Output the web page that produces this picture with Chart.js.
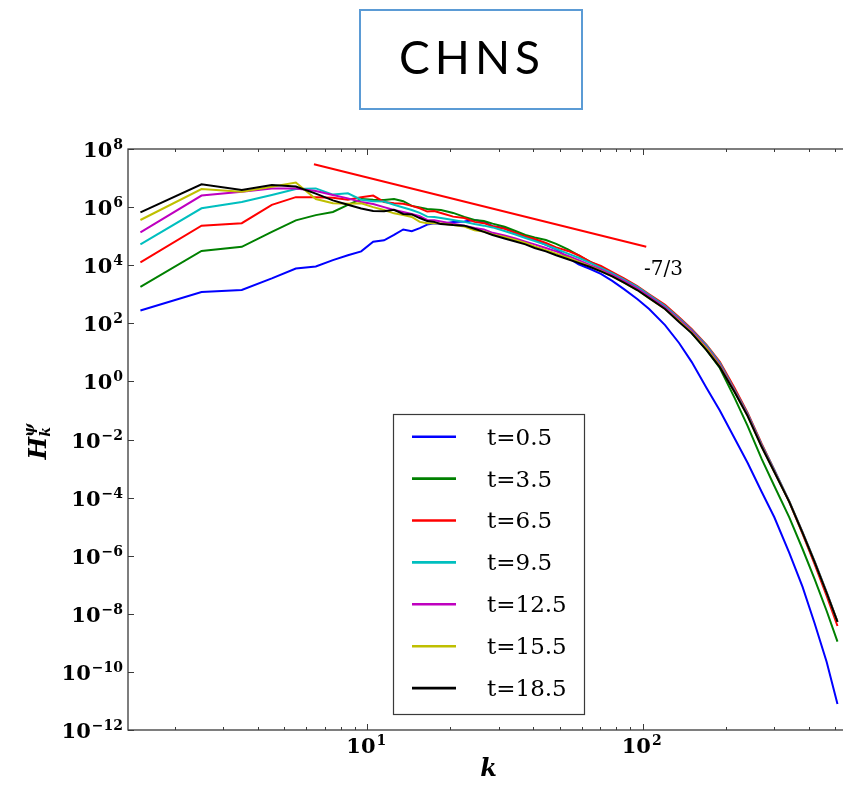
<!DOCTYPE html>
<html>
<head>
<meta charset="utf-8">
<script src="https://cdn.jsdelivr.net/npm/chart.js@4.4.1/dist/chart.umd.min.js"></script>
<style>
  html, body { margin: 0; padding: 0; background: #fff; overflow: hidden; }
  #wrap { position: relative; width: 843px; height: 786px; overflow: hidden; }
  #chart { position: absolute; left: 0; top: 0; }
  #title {
    position: absolute; left: 359px; top: 9px; width: 220px; height: 97px;
    border: 2px solid #5b9bd5; display: flex; align-items: center; justify-content: center;
    font-family: Lato, "Open Sans", sans-serif; font-size: 46px; letter-spacing: 5px; color: #000;
  }
  #title span { position: relative; top: -3px; left: 1px; }
</style>
</head>
<body>
<div id="wrap">
  <canvas id="chart" width="849" height="786"></canvas>
  <div id="title"><span>CHNS</span></div>
</div>
<script>
// wavenumber shells (x axis)
const kValues = [1.5, 2.5, 3.5, 4.5, 5.5, 6.5, 7.5, 8.5, 9.5, 10.5,
  11.5, 12.5, 13.5, 14.5, 15.5, 16.5, 17.5, 18.5, 20.5, 22.5,
  24.5, 26.5, 28.5, 31.5, 34.5, 37.5, 40.5, 44.5, 48.5, 53.5,
  58.5, 64.5, 70.5, 77.5, 85.5, 95.5, 105.5, 120.5, 135.5, 150.5,
  170.5, 190.5, 215.5, 240.5, 270.5, 300.5, 340.5, 380.5, 420.5, 465.5, 509.5];

const seriesLabels = ['t=0.5', 't=3.5', 't=6.5', 't=9.5', 't=12.5', 't=15.5', 't=18.5'];
const seriesColors = ['#0000ff', '#008000', '#ff0000', '#00bfbf', '#bf00bf', '#bfbf00', '#000000'];

const hT0_5 = [276, 1.2e3, 1.4e3, 3.5e3, 7.7e3, 9.0e3, 1.5e4, 2.2e4, 3.0e4, 6.4e4,
  7.2e4, 1.1e5, 1.7e5, 1.47e5, 1.9e5, 2.5e5, 2.8e5, 2.6e5, 3.1e5, 3.2e5,
  3.6e5, 3.1e5, 2.2e5, 1.9e5, 1.3e5, 9.4e4, 7.4e4, 5.0e4, 3.5e4, 1.8e4,
  1.06e4, 7.4e3, 5.0e3, 2.9e3, 1.5e3, 690, 310, 87, 21, 4.7,
  0.59, 0.10, 1.1e-2, 1.55e-3, 1.56e-4, 2.1e-5, 1.24e-6, 8.4e-8, 4.8e-9, 2.2e-10, 7.9e-12];
const hT3_5 = [1.8e3, 3.1e4, 4.3e4, 1.4e5, 3.5e5, 5.3e5, 6.8e5, 1.2e6, 1.9e6, 1.8e6,
  1.75e6, 1.9e6, 1.6e6, 1.1e6, 9.7e5, 8.6e5, 8.3e5, 7.9e5, 6.3e5, 4.6e5,
  3.6e5, 3.3e5, 2.7e5, 2.1e5, 1.5e5, 1.1e5, 9.0e4, 7.4e4, 5.4e4, 3.5e4,
  2.2e4, 1.3e4, 8.7e3, 5.4e3, 3.1e3, 1.6e3, 870, 340, 130, 46,
  12, 2.9, 0.27, 2.9e-2, 2.1e-3, 2.5e-4, 2.1e-5, 1.7e-6, 1.6e-7, 1.25e-8, 1.1e-9];
const hT6_5 = [1.26e4, 2.3e5, 2.8e5, 1.2e6, 2.2e6, 2.2e6, 2.1e6, 1.8e6, 2.2e6, 2.5e6,
  1.5e6, 1.35e6, 1.3e6, 1.1e6, 9.1e5, 7.0e5, 7.3e5, 6.3e5, 4.7e5, 4.2e5,
  3.1e5, 2.8e5, 2.2e5, 1.8e5, 1.3e5, 9.7e4, 8.0e4, 5.8e4, 4.1e4, 3.1e4,
  2.2e4, 1.3e4, 9.4e3, 5.8e3, 3.5e3, 1.9e3, 1.0e3, 430, 160, 64,
  18, 4.7, 0.59, 8.2e-2, 7.0e-3, 8.9e-4, 7.1e-5, 5.6e-6, 5.2e-7, 4.1e-8, 3.8e-9];
const hT9_5 = [5.2e4, 9.1e5, 1.5e6, 2.6e6, 4.2e6, 4.4e6, 2.7e6, 3.0e6, 1.8e6, 1.6e6,
  1.56e6, 1.2e6, 9.7e5, 7.9e5, 6.3e5, 4.7e5, 4.6e5, 4.2e5, 3.6e5, 3.1e5,
  2.6e5, 2.3e5, 2.0e5, 1.5e5, 1.14e5, 8.6e4, 6.8e4, 5.0e4, 3.6e4, 2.5e4,
  1.8e4, 1.2e4, 8.0e3, 5.2e3, 3.2e3, 1.8e3, 940, 390, 150, 59,
  17, 4.3, 0.51, 7.6e-2, 6.5e-3, 8.9e-4, 7.6e-5, 6.5e-6, 6.6e-7, 5.6e-8, 5.4e-9];
const hT12_5 = [1.36e5, 2.5e6, 3.4e6, 4.4e6, 4.4e6, 3.6e6, 2.6e6, 2.0e6, 1.5e6, 1.28e6,
  1.0e6, 7.9e5, 6.8e5, 5.8e5, 4.9e5, 3.6e5, 3.5e5, 3.2e5, 2.7e5, 2.3e5,
  1.9e5, 1.7e5, 1.3e5, 1.05e5, 8.3e4, 6.5e4, 5.2e4, 3.9e4, 3.0e4, 2.1e4,
  1.5e4, 1.0e4, 7.1e3, 4.6e3, 2.9e3, 1.6e3, 840, 350, 135, 54,
  15, 3.8, 0.47, 7.0e-2, 6.0e-3, 8.2e-4, 7.3e-5, 6.3e-6, 6.3e-7, 5.4e-8, 5.3e-9];
const hT15_5 = [3.6e5, 4.2e6, 3.4e6, 5.0e6, 7.0e6, 1.9e6, 1.35e6, 1.3e6, 1.35e6, 1.0e6,
  7.9e5, 6.1e5, 5.3e5, 4.6e5, 3.1e5, 2.8e5, 2.8e5, 2.7e5, 2.4e5, 2.15e5,
  1.6e5, 1.45e5, 1.14e5, 9.4e4, 7.4e4, 5.8e4, 4.4e4, 3.3e4, 2.5e4, 1.8e4,
  1.3e4, 9.0e3, 6.3e3, 4.1e3, 2.5e3, 1.4e3, 740, 310, 120, 48,
  13.6, 3.4, 0.43, 6.4e-2, 5.5e-3, 7.6e-4, 7.1e-5, 6.1e-6, 6.1e-7, 5.2e-8, 5.3e-9];
const hT18_5 = [6.6e5, 6.1e6, 3.9e6, 5.8e6, 5.1e6, 2.9e6, 1.7e6, 1.2e6, 9.0e5, 7.3e5,
  7.2e5, 8.1e5, 5.8e5, 5.6e5, 4.2e5, 3.3e5, 3.1e5, 2.6e5, 2.4e5, 2.3e5,
  1.8e5, 1.4e5, 1.1e5, 8.3e4, 6.5e4, 5.2e4, 3.9e4, 3.0e4, 2.2e4, 1.6e4,
  1.2e4, 8.7e3, 6.1e3, 4.1e3, 2.5e3, 1.4e3, 740, 310, 110, 46,
  12, 3.1, 0.43, 6.4e-2, 5.5e-3, 7.6e-4, 7.1e-5, 6.1e-6, 6.1e-7, 5.2e-8, 5.3e-9];
const seriesValues = [hT0_5, hT3_5, hT6_5, hT9_5, hT12_5, hT15_5, hT18_5];

// -7/3 reference slope
const refK = [6.4, 103];
const refH = [3.0e7, 4.3e4];
const refLabel = '-7/3';
const refLabelK = 101;
const refLabelH = 6.8e3;

const xTickExps = [1, 2];
const yTickExps = [8, 6, 4, 2, 0, -2, -4, -6, -8, -10, -12];

const SERIF = '"DejaVu Serif"';

// "10" with a raised exponent, baseline at y
function drawPow10(ctx, exp, x, y, align) {
  const sup = String(exp).replace('-', '\u2212');
  ctx.font = 'bold 21px ' + SERIF;
  const bw = ctx.measureText('10').width;
  ctx.font = 'bold 14px ' + SERIF;
  const sw = ctx.measureText(sup).width;
  const total = bw + 1 + sw;
  const x0 = align === 'right' ? x - total : x - total / 2;
  ctx.textAlign = 'left';
  ctx.textBaseline = 'alphabetic';
  ctx.font = 'bold 21px ' + SERIF;
  ctx.fillText('10', x0, y);
  ctx.font = 'bold 14px ' + SERIF;
  ctx.fillText(sup, x0 + bw + 1, y - 8);
}

const datasets = seriesValues.map((vals, i) => ({
  label: seriesLabels[i],
  data: kValues.map((k, j) => ({ x: k, y: vals[j] })),
  borderColor: seriesColors[i],
  borderWidth: 2,
  pointRadius: 0,
  tension: 0,
  fill: false,
  order: seriesValues.length - i
}));
datasets.push({
  label: 'slope',
  data: refK.map((k, j) => ({ x: k, y: refH[j] })),
  borderColor: '#ff0000',
  borderWidth: 2,
  pointRadius: 0,
  fill: false,
  order: 0
});

// frame, inward ticks and tick labels, like matplotlib classic
const axesDeco = {
  id: 'axesDeco',
  afterDatasetsDraw(chart) {
    const { ctx, chartArea: a, scales: { x, y } } = chart;
    ctx.save();
    ctx.strokeStyle = '#3a3a3a';
    ctx.lineWidth = 1.3;
    ctx.strokeRect(a.left, a.top, a.right - a.left, a.bottom - a.top);
    ctx.lineWidth = 1;
    ctx.beginPath();
    for (let d = 0; d <= 2; d++) {
      for (let m = 1; m <= 9; m++) {
        const v = m * Math.pow(10, d);
        if (v < x.min || v > x.max) continue;
        const px = Math.round(x.getPixelForValue(v)) + 0.5;
        const len = m === 1 ? 6 : 3;
        ctx.moveTo(px, a.bottom); ctx.lineTo(px, a.bottom - len);
        ctx.moveTo(px, a.top); ctx.lineTo(px, a.top + len);
      }
    }
    y.ticks.forEach(t => {
      const py = Math.round(y.getPixelForValue(t.value)) + 0.5;
      ctx.moveTo(a.left, py); ctx.lineTo(a.left + 6, py);
    });
    ctx.stroke();

    ctx.fillStyle = '#000';
    x.ticks.forEach((t, i) => drawPow10(ctx, xTickExps[i], x.getPixelForValue(t.value) - 1, a.bottom + 23, 'center'));
    y.ticks.forEach((t, i) => drawPow10(ctx, yTickExps[i], a.left - 5, y.getPixelForValue(t.value) + 8, 'right'));

    // slope annotation
    ctx.font = '20px ' + SERIF;
    ctx.textAlign = 'left';
    ctx.textBaseline = 'middle';
    ctx.fillText(refLabel, x.getPixelForValue(refLabelK), y.getPixelForValue(refLabelH));

    // y axis title H_k^psi
    ctx.translate(46, (a.top + a.bottom) / 2 + 2);
    ctx.rotate(-Math.PI / 2);
    ctx.textBaseline = 'alphabetic';
    ctx.font = 'italic bold 24px ' + SERIF;
    const hw = ctx.measureText('H').width;
    ctx.font = 'italic bold 14px ' + SERIF;
    const sw = Math.max(ctx.measureText('k').width, ctx.measureText('\u03c8').width);
    const x0 = -(hw + sw) / 2;
    ctx.font = 'italic bold 24px ' + SERIF;
    ctx.fillText('H', x0, 0);
    ctx.font = 'italic bold 14px ' + SERIF;
    ctx.fillText('k', x0 + hw, 4);
    ctx.fillText('\u03c8', x0 + hw, -12);
    ctx.restore();
  }
};

const legendBox = {
  id: 'legendBox',
  afterDraw(chart) {
    const { ctx, chartArea: a } = chart;
    const left = a.left + 265, top = a.top + 265, w = 191, h = 300, step = 41.9;
    ctx.save();
    ctx.fillStyle = '#fff';
    ctx.fillRect(left, top, w, h);
    ctx.strokeStyle = '#3a3a3a';
    ctx.lineWidth = 1.2;
    ctx.strokeRect(left + 0.5, top + 0.5, w, h);
    ctx.font = '23px ' + SERIF;
    ctx.textAlign = 'left';
    ctx.textBaseline = 'middle';
    seriesLabels.forEach((lab, i) => {
      const cy = top + 22.7 + i * step;
      ctx.strokeStyle = seriesColors[i];
      ctx.lineWidth = 2.6;
      ctx.beginPath();
      ctx.moveTo(left + 19, cy); ctx.lineTo(left + 63, cy);
      ctx.stroke();
      ctx.fillStyle = '#000';
      ctx.fillText(lab, left + 94, cy + 2);
    });
    ctx.restore();
  }
};

new Chart(document.getElementById('chart'), {
  type: 'line',
  data: { datasets },
  options: {
    responsive: false,
    animation: false,
    layout: { padding: { top: 149, left: 0, right: 0, bottom: 0 } },
    plugins: { legend: { display: false }, tooltip: { enabled: false } },
    scales: {
      x: {
        type: 'logarithmic',
        min: 1.352,
        max: 561,
        afterFit: s => { s.height = 56; },
        afterBuildTicks: s => { s.ticks = xTickExps.map(e => ({ value: Math.pow(10, e) })); },
        grid: { display: false },
        border: { display: false },
        ticks: { display: false },
        title: {
          display: true, text: 'k', color: '#000',
          font: { family: 'DejaVu Serif', style: 'italic', weight: 'bold', size: 24 },
          padding: { top: 0, bottom: 2 }
        }
      },
      y: {
        type: 'logarithmic',
        min: 1e-12,
        max: 1e8,
        afterFit: s => { s.width = 128; },
        afterBuildTicks: s => { s.ticks = yTickExps.map(e => ({ value: Math.pow(10, e) })); },
        grid: { display: false },
        border: { display: false },
        ticks: { display: false }
      }
    }
  },
  plugins: [axesDeco, legendBox]
});
</script>
</body>
</html>
